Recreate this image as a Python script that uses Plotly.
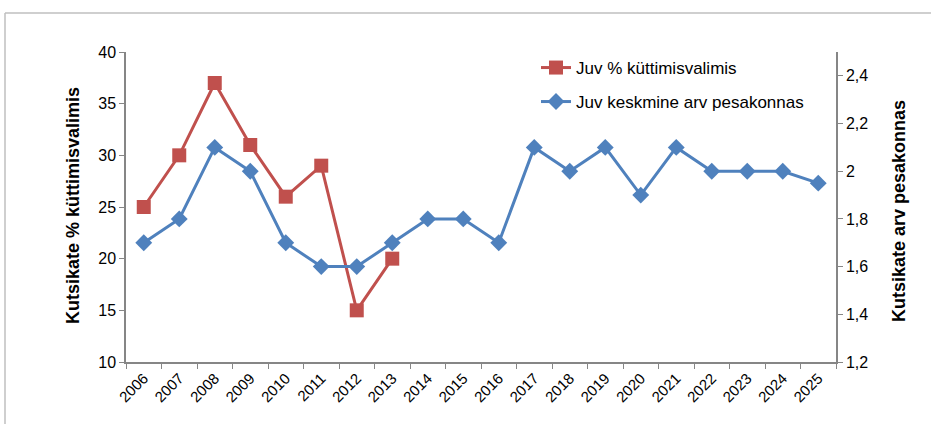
import plotly.graph_objects as go

years = [str(y) for y in range(2006, 2026)]
juv_pct_years = years[:8]
juv_pct = [25, 30, 37, 31, 26, 29, 15, 20]
juv_mean = [1.7, 1.8, 2.1, 2.0, 1.7, 1.6, 1.6, 1.7, 1.8, 1.8, 1.7, 2.1, 2.0, 2.1, 1.9, 2.1, 2.0, 2.0, 2.0, 1.95]
left_ticks = [10, 15, 20, 25, 30, 35, 40]
right_ticks = [1.2, 1.4, 1.6, 1.8, 2.0, 2.2, 2.4]
right_labels = ["1,2", "1,4", "1,6", "1,8", "2", "2,2", "2,4"]

RED = "#c0504d"
BLUE = "#4f81bd"
AX = "#868686"
FONT = "Liberation Sans"

fig = go.Figure()
fig.add_trace(go.Scatter(
    x=juv_pct_years, y=juv_pct, name="Juv % küttimisvalimis",
    mode="lines+markers", line=dict(color=RED, width=3),
    marker=dict(symbol="square", size=14, color=RED), yaxis="y", legend="legend"))
fig.add_trace(go.Scatter(
    x=years, y=juv_mean, name="Juv keskmine arv pesakonnas",
    mode="lines+markers", line=dict(color=BLUE, width=3),
    marker=dict(symbol="diamond", size=13, color=BLUE), yaxis="y2", legend="legend2"))

W, H = 931, 424
l, r, t, b = 126, 95, 52, 62
pw, ph = W - l - r, H - t - b

def px(x):
    return (x - l) / pw

def py(y):
    return 1 - (y - t) / ph

fig.update_layout(
    width=W, height=H,
    margin=dict(l=l, r=r, t=t, b=b, autoexpand=False),
    paper_bgcolor="white", plot_bgcolor="white",
    font=dict(family=FONT, size=14, color="black"),
    xaxis=dict(
        type="category", categoryorder="array", categoryarray=years,
        range=[-0.5, len(years) - 0.5], automargin=False,
        showline=True, linecolor=AX, linewidth=1.5,
        ticks="outside", tickson="boundaries", ticklen=5, tickcolor=AX,
        tickangle=-45, tickfont=dict(size=15), showgrid=False, zeroline=False),
    yaxis=dict(
        range=[10, 40], tickvals=left_ticks, showline=True, linecolor=AX, linewidth=1.5,
        ticks="outside", ticklen=5, tickcolor=AX, showgrid=False, zeroline=False,
        tickfont=dict(size=16), automargin=False),
    yaxis2=dict(
        overlaying="y", side="right", range=[1.2, 2.5], tickvals=right_ticks,
        ticktext=right_labels, showline=True, linecolor=AX, linewidth=1.5,
        ticks="outside", ticklen=5, tickcolor=AX, showgrid=False, zeroline=False,
        tickfont=dict(size=16), automargin=False),
    legend=dict(x=px(536), y=py(68), xanchor="left", yanchor="middle",
                font=dict(size=17), bgcolor="rgba(0,0,0,0)", itemwidth=30),
    legend2=dict(x=px(536), y=py(102), xanchor="left", yanchor="middle",
                 font=dict(size=17), bgcolor="rgba(0,0,0,0)", itemwidth=30),
    showlegend=True,
)

# axis titles
fig.add_annotation(text="<b>Kutsikate % küttimisvalimis</b>", xref="paper", yref="paper",
                   x=px(73), y=py(206), textangle=-90, showarrow=False,
                   font=dict(size=18), xanchor="center", yanchor="middle")
fig.add_annotation(text="<b>Kutsikate arv pesakonnas</b>", xref="paper", yref="paper",
                   x=px(899), y=py(211), textangle=-90, showarrow=False,
                   font=dict(size=18), xanchor="center", yanchor="middle")

# outer chart frame (left and top edges visible)
fig.add_shape(type="line", xref="paper", yref="paper",
              x0=px(5), x1=px(5), y0=py(430), y1=py(13),
              line=dict(color="#bfbfbf", width=1.5))
fig.add_shape(type="line", xref="paper", yref="paper",
              x0=px(5), x1=px(935), y0=py(13), y1=py(13),
              line=dict(color="#bfbfbf", width=1.5))

fig.write_html("out.html",
               config={"displayModeBar": False},
               post_script="document.body.style.margin='0';document.body.style.overflow='hidden';")
